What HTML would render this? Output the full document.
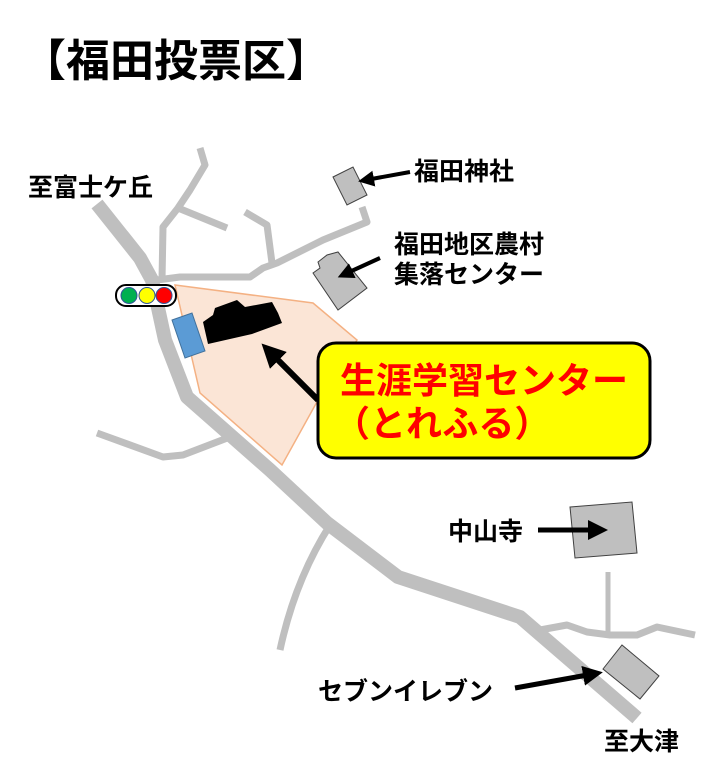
<!DOCTYPE html>
<html><head><meta charset="utf-8"><style>
body{margin:0;background:#fff;width:720px;height:774px;overflow:hidden}
svg{display:block}
text{font-family:"Liberation Sans","Noto Sans CJK JP",sans-serif;font-weight:bold}
</style></head><body>
<svg width="720" height="774" viewBox="0 0 720 774" xmlns="http://www.w3.org/2000/svg">
<text x="22" y="76" font-size="44" fill="#000">【福田投票区】</text>
<polygon points="175,285 313,303 357,340 318,400 282,465 200,393" fill="#fbe5d6" stroke="#f4b183" stroke-width="1.5"/>
<g fill="none" stroke="#bfbfbf" stroke-linejoin="round" stroke-linecap="butt">
<polyline stroke-width="7" points="162,280 163,227 178,208 190,190 205,165 200,148"/>
<polyline stroke-width="7" points="178,208 227,228"/>
<polyline stroke-width="7" points="157,280 180,277 250,277 263,268 277,263 323,240 367,222 362,207"/>
<polyline stroke-width="7" points="272,263 267,225 245,212"/>
<polyline stroke-width="7" points="97,433 163,457 183,455 230,437"/>
<path stroke-width="7" d="M330,525 Q295,580 280,650"/>
<polyline stroke-width="7" points="540,630 567,625 587,632 610,635 637,635 657,627 695,635"/>
<polyline stroke-width="5" points="608,572 608,635"/>
<polyline stroke-width="14" points="97,204 140,258 152,280 165,340 187,397 270,470 327,523 398,577 520,617 637,718"/>
</g>
<polygon points="333,177 353,167 367,195 347,205" fill="#bfbfbf" stroke="#404040" stroke-width="1"/>
<polygon points="313,273 320,268 318,262 327,255 338,252 367,288 338,310" fill="#bfbfbf" stroke="#404040" stroke-width="1"/>
<polygon points="570,507 632,502 637,553 575,558" fill="#bfbfbf" stroke="#404040" stroke-width="1"/>
<polygon points="622,645 659,676 640,699 603,669" fill="#bfbfbf" stroke="#404040" stroke-width="1"/>
<polygon points="172,320 192,313 205,351 185,358" fill="#5b9bd5" stroke="#41719c" stroke-width="1"/>
<polygon points="203,322 213,315 215,308 237,300 245,307 272,302 278,313 282,323 252,334 208,344" fill="#000"/>
<rect x="116" y="285" width="60" height="21" rx="10" fill="#fff" stroke="#000" stroke-width="2"/>
<circle cx="129" cy="295.5" r="8" fill="#00b050" stroke="#2f5597" stroke-width="1"/>
<circle cx="147" cy="295.5" r="8" fill="#ffff00" stroke="#2f5597" stroke-width="1"/>
<circle cx="164" cy="295.5" r="8" fill="#ff0000" stroke="#2f5597" stroke-width="1"/>
<defs><marker id="a" markerWidth="4" markerHeight="4" refX="2" refY="2" orient="auto" markerUnits="strokeWidth"><path d="M0,0 L4,2 L0,4 z" fill="#000"/></marker></defs>
<g stroke="#000" fill="none">
<line x1="318" y1="400" x2="270" y2="352" stroke-width="6" marker-end="url(#a)"/>
<line x1="410" y1="172" x2="366" y2="180" stroke-width="4" marker-end="url(#a)"/>
<line x1="380" y1="258" x2="345" y2="274" stroke-width="4" marker-end="url(#a)"/>
<line x1="538" y1="530" x2="598" y2="530" stroke-width="5" marker-end="url(#a)"/>
<line x1="515" y1="688" x2="593" y2="674" stroke-width="5" marker-end="url(#a)"/>
</g>
<rect x="318" y="343" width="332" height="115" rx="18" fill="#ffff00" stroke="#000" stroke-width="3"/>
<text x="484" y="393" font-size="36" fill="#ff0000" text-anchor="middle">生涯学習センター</text>
<text x="334" y="436" font-size="36" fill="#ff0000">（とれふる）</text>
<g font-size="25" fill="#000">
<text x="28" y="196">至富士ケ丘</text>
<text x="414" y="180">福田神社</text>
<text x="394" y="253">福田地区農村</text>
<text x="394" y="283">集落センター</text>
<text x="448" y="540">中山寺</text>
<text x="318" y="700">セブンイレブン</text>
<text x="604" y="750">至大津</text>
</g>
</svg>
</body></html>
